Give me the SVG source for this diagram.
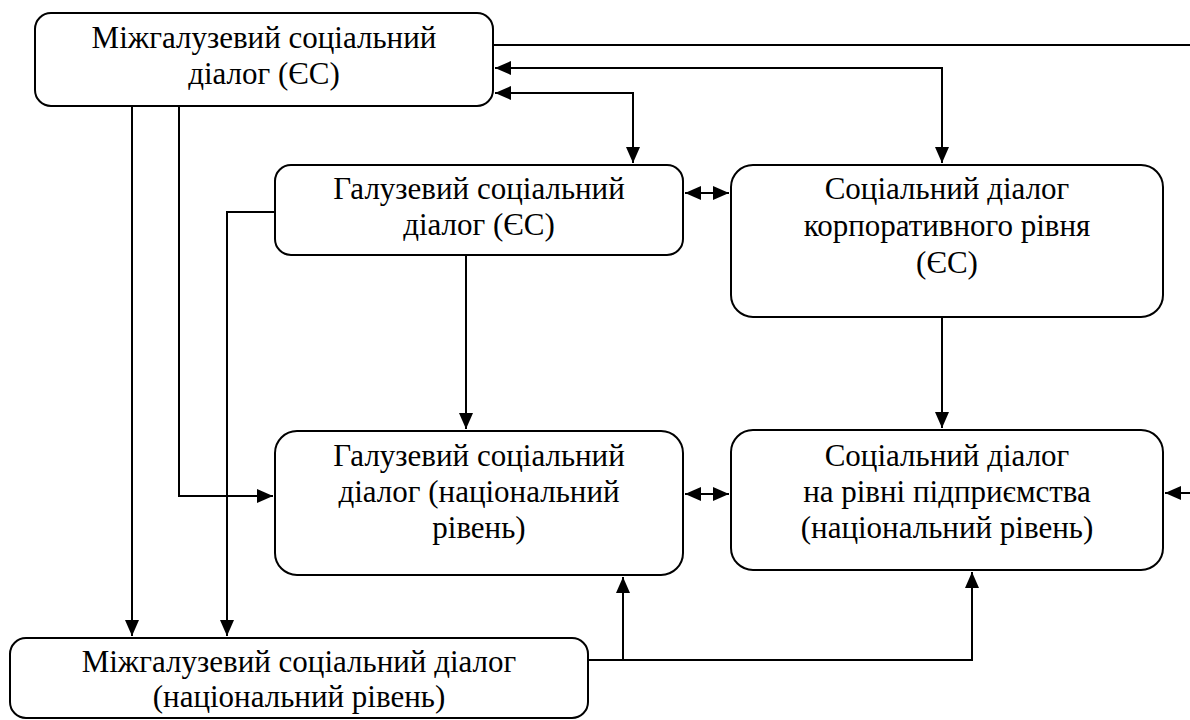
<svg xmlns="http://www.w3.org/2000/svg" width="1190" height="720" viewBox="0 0 1190 720">
<defs>
<marker id="a" markerWidth="16" markerHeight="14" refX="16" refY="7" orient="auto" markerUnits="userSpaceOnUse"><path d="M0,0 L16,7 L0,14 Z" fill="#000"/></marker>
<marker id="s" markerWidth="16" markerHeight="14" refX="0" refY="7" orient="auto" markerUnits="userSpaceOnUse"><path d="M16,0 L0,7 L16,14 Z" fill="#000"/></marker>
<style>
rect{fill:#fff;stroke:#000;stroke-width:2}
text{font-family:'Liberation Serif','Times New Roman','DejaVu Serif',serif;font-size:31px;fill:#000;text-anchor:middle}
.c path{fill:none;stroke:#000;stroke-width:2}
</style>
</defs>
<rect x="0" y="0" width="1190" height="720" style="stroke:none"/>
<g class="c">
<path d="M493,45 H1190"/>
<path d="M495,68 H942 V163" marker-start="url(#s)" marker-end="url(#a)"/>
<path d="M495,93 H633 V163" marker-start="url(#s)" marker-end="url(#a)"/>
<path d="M685,193 H729" marker-start="url(#s)" marker-end="url(#a)"/>
<path d="M685,494 H729" marker-start="url(#s)" marker-end="url(#a)"/>
<path d="M1190,493 H1165" marker-end="url(#a)"/>
<path d="M132,106 V636" marker-end="url(#a)"/>
<path d="M179,106 V496 H273" marker-end="url(#a)"/>
<path d="M275,212 H227 V636" marker-end="url(#a)"/>
<path d="M466,255 V429" marker-end="url(#a)"/>
<path d="M942,317 V428" marker-end="url(#a)"/>
<path d="M588,660 H972 V572" marker-end="url(#a)"/>
<path d="M623,660 V577" marker-end="url(#a)"/>
</g>
<g id="n1"><rect x="35" y="13" width="458" height="93" rx="16"/><text x="264" y="48">Міжгалузевий соціальний</text><text x="264" y="84">діалог (ЄС)</text></g>
<g id="n2"><rect x="275" y="165" width="408" height="90" rx="16"/><text x="479" y="199">Галузевий соціальний</text><text x="479" y="235">діалог (ЄС)</text></g>
<g id="n3"><rect x="731" y="165" width="432" height="152" rx="22"/><text x="947" y="199">Соціальний діалог</text><text x="947" y="236">корпоративного рівня</text><text x="947" y="273">(ЄС)</text></g>
<g id="n4"><rect x="275" y="431" width="408" height="144" rx="22"/><text x="479" y="466">Галузевий соціальний</text><text x="479" y="502">діалог (національний</text><text x="479" y="538">рівень)</text></g>
<g id="n5"><rect x="731" y="430" width="432" height="140" rx="22"/><text x="947" y="466">Соціальний діалог</text><text x="947" y="502">на рівні підприємства</text><text x="947" y="538">(національний рівень)</text></g>
<g id="n6"><rect x="10" y="638" width="578" height="80" rx="16"/><text x="299" y="672">Міжгалузевий соціальний діалог</text><text x="299" y="707">(національний рівень)</text></g>
</svg>
